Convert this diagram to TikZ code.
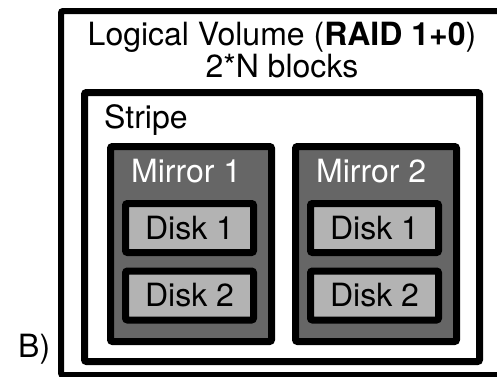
\documentclass[tikz,border=0pt]{standalone}
\usepackage{fontspec}
\setmainfont{TeX Gyre Heros}
\usetikzlibrary{positioning}
\definecolor{mirrorgray}{HTML}{666666}
\definecolor{diskgray}{HTML}{B3B3B3}

\begin{document}
\begin{tikzpicture}[
  x=1pt, y=-1pt,
  every node/.style={font=\fontsize{32}{32}\selectfont},
  box/.style={draw=black, rectangle, rounded corners=2pt, inner sep=0pt},
  volbox/.style={box, line width=6pt, fill=white},
  stripebox/.style={box, line width=7pt, fill=white},
  mirrorbox/.style={box, line width=7pt, fill=mirrorgray, minimum width=161pt, minimum height=195pt},
  diskbox/.style={box, line width=7pt, fill=diskgray, minimum width=128pt, minimum height=49pt},
  label/.style={anchor=base west, inner sep=0pt}
]
\clip (0,0) rectangle (497,376);
\fill[white] (0,0) rectangle (497,376);
% containers
\node[volbox, minimum width=459pt, minimum height=364pt] (volume) at (290.5,193) {};
\node[stripebox, minimum width=395pt, minimum height=269pt] (stripe) at (282,227) {};
\node[mirrorbox] (mirror1) at (191,244) {};
\node[mirrorbox] (mirror2) at (376,244) {};
% disks
\node[diskbox] (m1disk1) at (189.5,228) {Disk 1};
\node[diskbox] (m1disk2) at (189.5,295.5) {Disk 2};
\node[diskbox] (m2disk1) at (374.5,228) {Disk 1};
\node[diskbox] (m2disk2) at (374.5,295.5) {Disk 2};
% labels
\node[anchor=base, inner sep=0pt, align=center] (voltitle) at (282,77) {Logical Volume (\textbf{RAID 1+0})\\2*N blocks};
\node[label] (stripelabel) at (104,128) {Stripe};
\node[label, text=white] (mirror1label) at (131,182) {Mirror 1};
\node[label, text=white] (mirror2label) at (316,182) {Mirror 2};
\node[label] (partlabel) at (18,357) {B)};
\end{tikzpicture}
\end{document}
